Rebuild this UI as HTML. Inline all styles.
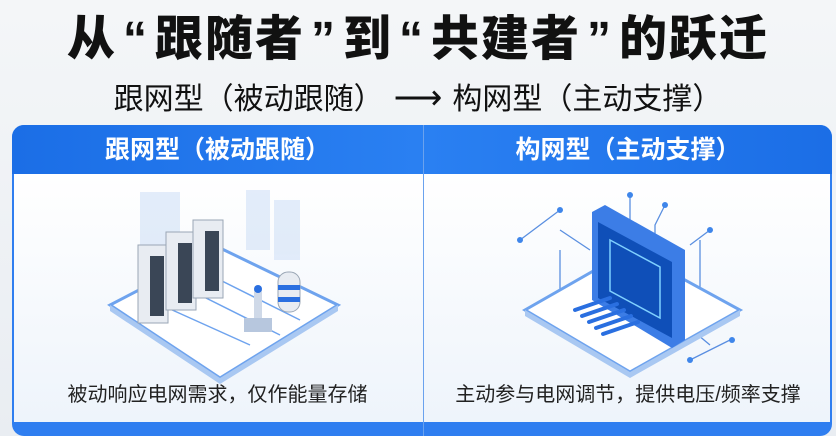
<!DOCTYPE html>
<html><head><meta charset="utf-8"><style>
body{margin:0;width:836px;height:436px;overflow:hidden;background:linear-gradient(180deg,#f4f6f8,#e9edf2);font-family:"Liberation Sans","Noto Sans CJK SC",sans-serif;position:relative}
.t{position:absolute;left:0;width:836px;text-align:center;color:#111}
.h{position:absolute;top:126px;height:48px;line-height:48px;color:#fff;font-size:25px;font-weight:bold;text-align:center}
.c{position:absolute;top:378px;font-size:20px;color:#222;text-align:center}
</style></head><body>
<div class="t" style="top:10px;font-size:48px;font-weight:900;line-height:60px;letter-spacing:2px"><span>从</span><span style="margin:0 6px">“</span>跟随者<span style="margin:0 6px">”</span>到<span style="margin:0 6px">“</span>共建者<span style="margin:0 6px">”</span>的跃迁</div>
<div class="t" style="top:78px;font-size:30px;line-height:40px">跟网型（被动跟随）<span style="font-size:34px;margin:0 10px">⟶</span>构网型（主动支撑）</div>
<div style="position:absolute;left:12px;top:125px;width:820px;height:311px;border-radius:12px;background:#2f7ef0;overflow:hidden">
<div style="position:absolute;left:0;top:0;width:820px;height:49px;background:linear-gradient(90deg,#1b6ee6,#2a80f2 50%,#1b6ee6)"></div>
<div style="position:absolute;left:2px;top:49px;width:816px;height:248px;background:linear-gradient(180deg,#ffffff,#eef4fb)"></div>
<div style="position:absolute;left:411px;top:0;width:1px;height:311px;background:#6aa2ee"></div>
</div>
<div class="h" style="left:12px;width:411px">跟网型（被动跟随）</div>
<div class="h" style="left:424px;width:408px">构网型（主动支撑）</div>
<svg style="position:absolute;left:0;top:0" width="836" height="436">
<g opacity="0.5" fill="#c9dcf6"><rect x="140" y="192" width="40" height="60"/><rect x="246" y="190" width="24" height="60"/><rect x="274" y="200" width="26" height="60"/></g>
<polygon points="220,248 338,305 220,378 110,305" fill="#fff" stroke="#6ea3ee" stroke-width="3"/>
<polygon points="220,378 338,305 338,311 220,384 110,311 110,305" fill="#a9c8f2"/>
<g stroke="#6ea3ee" stroke-width="1.5" fill="none"><path d="M150,300 L250,345 M180,285 L280,335 M210,275 L300,320"/></g>
<g fill="#e8ecf2" stroke="#9aa6b5"><rect x="138" y="245" width="30" height="78"/><rect x="166" y="232" width="30" height="78"/><rect x="193" y="220" width="30" height="78"/></g>
<g fill="#3a4656"><rect x="150" y="256" width="14" height="60"/><rect x="178" y="243" width="14" height="60"/><rect x="205" y="231" width="14" height="60"/></g>
<rect x="278" y="272" width="22" height="40" rx="10" fill="#e8ecf2" stroke="#9aa6b5"/><rect x="278" y="285" width="22" height="5" fill="#2a6fe0"/><rect x="278" y="297" width="22" height="5" fill="#2a6fe0"/>
<rect x="254" y="290" width="8" height="30" fill="#cfd9e8"/><circle cx="258" cy="289" r="4" fill="#2a6fe0"/><rect x="244" y="318" width="28" height="14" fill="#b7c7de"/>
<g stroke="#5a8fe0" stroke-width="1.3" fill="none"><path d="M520,240 L560,210 M560,230 L590,250 M560,250 L560,300 M630,195 L630,225 M665,205 L655,225 L655,235 M710,230 L690,245 M700,240 L700,290 M680,320 L710,345 M690,360 L730,340"/></g>
<g fill="#3f86ea"><circle cx="520" cy="240" r="3"/><circle cx="560" cy="210" r="3"/><circle cx="665" cy="205" r="3"/><circle cx="710" cy="230" r="3"/><circle cx="732" cy="340" r="3"/><circle cx="560" cy="300" r="3"/><circle cx="630" cy="195" r="3"/><circle cx="690" cy="360" r="3"/></g>
<polygon points="630,250 740,310 630,372 525,310" fill="#fff" stroke="#6ea3ee" stroke-width="3"/>
<polygon points="630,372 740,310 740,316 630,378 525,316 525,310" fill="#a9c8f2"/>
<polygon points="592,212 605,205 685,250 685,340 672,348 592,300" fill="#3c7de6"/>
<polygon points="598,222 672,262 672,338 598,298" fill="#0f4fb8"/>
<polygon points="610,240 660,267 660,318 610,291" fill="none" stroke="#7fd0ff" stroke-width="1.5"/>
<g stroke="#2a6fe0" stroke-width="4" stroke-linecap="round"><path d="M575,310 L610,298 M582,316 L617,304 M589,322 L624,310 M596,328 L631,316 M603,334 L638,322"/></g>
</svg>
<div class="c" style="left:12px;width:411px">被动响应电网需求，仅作能量存储</div>
<div class="c" style="left:424px;width:408px">主动参与电网调节，提供电压/频率支撑</div>
</body></html>
